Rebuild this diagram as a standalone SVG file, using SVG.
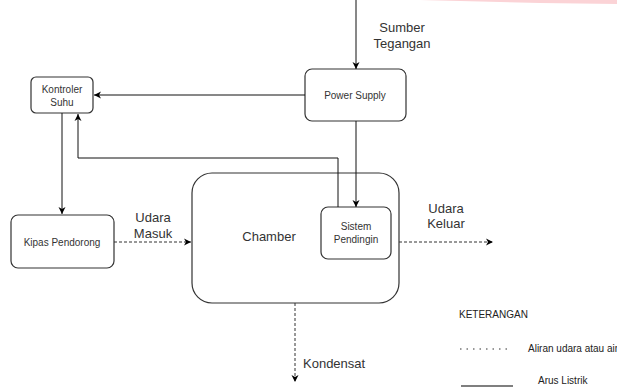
<svg xmlns="http://www.w3.org/2000/svg" width="617" height="391" viewBox="0 0 617 391">
<defs>
<style>
.box{fill:#fff;stroke:#333;stroke-width:1.2}
.ln{fill:none;stroke:#111;stroke-width:1}
.dash{fill:none;stroke:#333;stroke-width:1;stroke-dasharray:3 2}
.t{font-family:"Liberation Sans",Arial,sans-serif;fill:#333;text-anchor:middle}
.s{font-size:10px}
.m{font-size:13px}
.l{font-family:"Liberation Sans",Arial,sans-serif;fill:#222;font-size:10px}
</style>
<marker id="ah" markerWidth="8" markerHeight="8" refX="7" refY="4" orient="auto" markerUnits="userSpaceOnUse">
<path d="M0,0.5 L7,4 L0,7.5 L2,4 Z" fill="#000"/>
</marker>
</defs>
<rect width="617" height="391" fill="#fff"/>
<polygon points="420,0 617,0 617,4 540,3" fill="#fbd3d6"/>
<g id="sumber-label"><text class="t m" x="402" y="32">Sumber</text><text class="t m" x="402" y="48">Tegangan</text></g>
<g id="power-supply"><rect class="box" x="305" y="69" width="101" height="52" rx="7"/><text class="t s" x="355" y="99">Power Supply</text></g>
<g id="kontroler-suhu"><rect class="box" x="31" y="77" width="62" height="36" rx="5"/><text class="t s" x="62" y="93">Kontroler</text><text class="t s" x="62" y="106">Suhu</text></g>
<g id="kipas-pendorong"><rect class="box" x="11" y="215" width="103" height="53" rx="7"/><text class="t s" x="62" y="246">Kipas Pendorong</text></g>
<g id="udara-masuk"><text class="t m" x="153" y="222">Udara</text><text class="t m" x="153" y="238">Masuk</text></g>
<g id="chamber"><rect class="box" x="192" y="173" width="207" height="130" rx="20"/><text class="t m" x="269" y="241">Chamber</text></g>
<g id="sistem-pendingin"><rect class="box" x="321" y="207" width="70" height="52" rx="7"/><text class="t s" x="356" y="230">Sistem</text><text class="t s" x="356" y="243">Pendingin</text></g>
<g id="udara-keluar"><text class="t m" x="446" y="213">Udara</text><text class="t m" x="446" y="228">Keluar</text></g>
<g id="kondensat"><text class="t m" x="303" y="368" style="text-anchor:start">Kondensat</text></g>
<g id="legend">
<text class="l" x="459" y="318">KETERANGAN</text>
<line x1="460" y1="349" x2="510" y2="349" stroke="#333" stroke-width="1.2" stroke-dasharray="1.5 5"/>
<text class="l" x="528" y="352">Aliran udara atau air</text>
<line x1="461" y1="386" x2="513" y2="386" stroke="#555" stroke-width="1.5"/>
<text class="l" x="538" y="384">Arus Listrik</text>
</g>
<g id="connectors">
<line class="ln" x1="356" y1="0" x2="356" y2="69" marker-end="url(#ah)"/>
<line class="ln" x1="305" y1="95" x2="94" y2="95" marker-end="url(#ah)"/>
<line class="ln" x1="62" y1="113" x2="62" y2="214" marker-end="url(#ah)"/>
<polyline class="ln" points="338,207 338,158 78,158 78,114" marker-end="url(#ah)"/>
<line class="ln" x1="356" y1="121" x2="356" y2="207" marker-end="url(#ah)"/>
<line class="dash" x1="114" y1="242" x2="191" y2="242" marker-end="url(#ah)"/>
<line class="dash" x1="399" y1="242" x2="493" y2="242" marker-end="url(#ah)"/>
<line class="dash" x1="295" y1="303" x2="295" y2="382" marker-end="url(#ah)"/>
</g>
</svg>
